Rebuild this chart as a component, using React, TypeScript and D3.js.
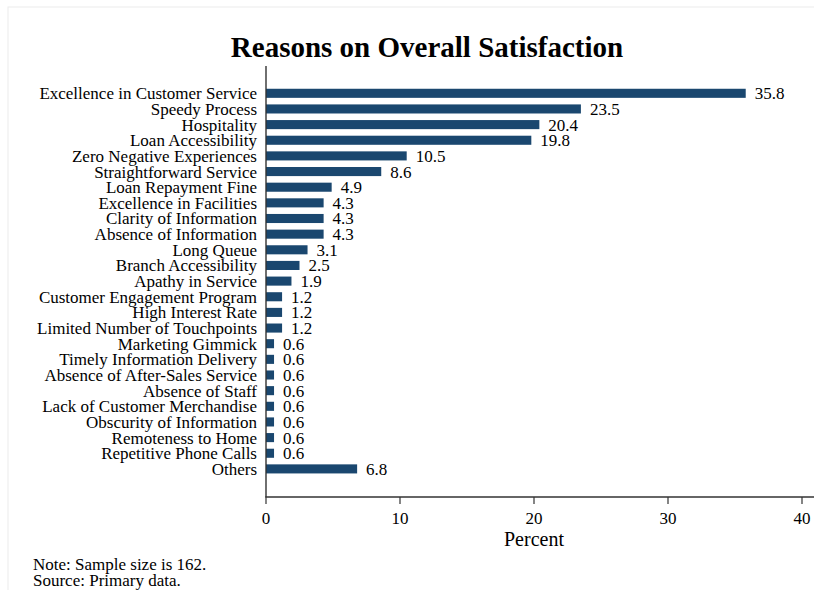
import { useEffect, useRef } from "react";
import * as d3 from "d3";

const categories = [
  "Excellence in Customer Service",
  "Speedy Process",
  "Hospitality",
  "Loan Accessibility",
  "Zero Negative Experiences",
  "Straightforward Service",
  "Loan Repayment Fine",
  "Excellence in Facilities",
  "Clarity of Information",
  "Absence of Information",
  "Long Queue",
  "Branch Accessibility",
  "Apathy in Service",
  "Customer Engagement Program",
  "High Interest Rate",
  "Limited Number of Touchpoints",
  "Marketing Gimmick",
  "Timely Information Delivery",
  "Absence of After-Sales Service",
  "Absence of Staff",
  "Lack of Customer Merchandise",
  "Obscurity of Information",
  "Remoteness to Home",
  "Repetitive Phone Calls",
  "Others",
];

const percents = [
  35.8, 23.5, 20.4, 19.8, 10.5, 8.6, 4.9, 4.3, 4.3, 4.3, 3.1, 2.5, 1.9, 1.2,
  1.2, 1.2, 0.6, 0.6, 0.6, 0.6, 0.6, 0.6, 0.6, 0.6, 6.8,
];

const xTicks = [0, 10, 20, 30, 40];
const notes = ["Note: Sample size is 162.", "Source: Primary data."];

const W = 814;
const H = 590;
const FONT = "'Liberation Serif', 'Times New Roman', serif";
const NAVY = "#1a476f";
const FS = "17px";

export default function App() {
  const svgRef = useRef<SVGSVGElement>(null);

  useEffect(() => {
    if (!svgRef.current) return;
    const svg = d3.select(svgRef.current);
    svg.selectAll("*").remove();

    // faint graph region outline
    svg
      .append("rect")
      .attr("x", 8)
      .attr("y", 7)
      .attr("width", W)
      .attr("height", H)
      .attr("fill", "#fff")
      .attr("stroke", "#ececec")
      .attr("stroke-width", 1);

    const x = d3.scaleLinear().domain([0, 40]).range([266, 802]);
    const step = 15.65;
    const y = d3
      .scaleBand()
      .domain(categories)
      .range([93.3 - step / 2, 93.3 - step / 2 + step * categories.length])
      .paddingInner(0.42)
      .paddingOuter(0.21);
    const barH = y.bandwidth();

    svg
      .append("text")
      .attr("x", 427)
      .attr("y", 57)
      .attr("text-anchor", "middle")
      .attr("font-family", FONT)
      .attr("font-weight", "bold")
      .attr("font-size", "29px")
      .attr("fill", "#000")
      .text("Reasons on Overall Satisfaction");

    const rows = categories.map((c, i) => ({ c, v: percents[i] }));

    svg
      .selectAll(".bar")
      .data(rows)
      .enter()
      .append("rect")
      .attr("class", "bar")
      .attr("x", x(0))
      .attr("y", (d) => y(d.c) ?? 0)
      .attr("width", (d) => x(d.v) - x(0))
      .attr("height", barH)
      .attr("fill", NAVY);

    svg
      .selectAll(".lab")
      .data(rows)
      .enter()
      .append("text")
      .attr("class", "lab")
      .attr("x", 257)
      .attr("y", (d) => (y(d.c) ?? 0) + barH / 2)
      .attr("dy", "0.35em")
      .attr("text-anchor", "end")
      .attr("font-family", FONT)
      .attr("font-size", FS)
      .attr("fill", "#000")
      .text((d) => d.c);

    svg
      .selectAll(".val")
      .data(rows)
      .enter()
      .append("text")
      .attr("class", "val")
      .attr("x", (d) => x(d.v) + 9)
      .attr("y", (d) => (y(d.c) ?? 0) + barH / 2)
      .attr("dy", "0.35em")
      .attr("font-family", FONT)
      .attr("font-size", FS)
      .attr("fill", "#000")
      .text((d) => d.v.toFixed(1));

    // axes
    const axisY = 497;
    svg
      .append("line")
      .attr("x1", x(0))
      .attr("x2", x(0))
      .attr("y1", 66)
      .attr("y2", axisY)
      .attr("stroke", "#333")
      .attr("stroke-width", 1.4);

    svg
      .append("line")
      .attr("x1", x(0) - 0.7)
      .attr("x2", W)
      .attr("y1", axisY)
      .attr("y2", axisY)
      .attr("stroke", "#333")
      .attr("stroke-width", 1.4);

    const tg = svg
      .selectAll(".tick")
      .data(xTicks)
      .enter()
      .append("g")
      .attr("class", "tick")
      .attr("transform", (d) => `translate(${x(d)},${axisY})`);

    tg.append("line")
      .attr("y1", 0)
      .attr("y2", 7)
      .attr("stroke", "#333")
      .attr("stroke-width", 1.2);

    tg.append("text")
      .attr("y", 21)
      .attr("dy", "0.35em")
      .attr("text-anchor", "middle")
      .attr("font-family", FONT)
      .attr("font-size", FS)
      .attr("fill", "#000")
      .text((d) => String(d));

    svg
      .append("text")
      .attr("x", x(20))
      .attr("y", 539)
      .attr("dy", "0.35em")
      .attr("text-anchor", "middle")
      .attr("font-family", FONT)
      .attr("font-size", "20px")
      .attr("fill", "#000")
      .text("Percent");

    svg
      .selectAll(".note")
      .data(notes)
      .enter()
      .append("text")
      .attr("class", "note")
      .attr("x", 33)
      .attr("y", (_, i) => 570 + i * 16)
      .attr("font-family", FONT)
      .attr("font-size", FS)
      .attr("fill", "#000")
      .text((d) => d);
  }, []);

  return (
    <svg
      ref={svgRef}
      width={W}
      height={H}
      style={{ position: "absolute", left: 0, top: 0, background: "#fff" }}
    />
  );
}
